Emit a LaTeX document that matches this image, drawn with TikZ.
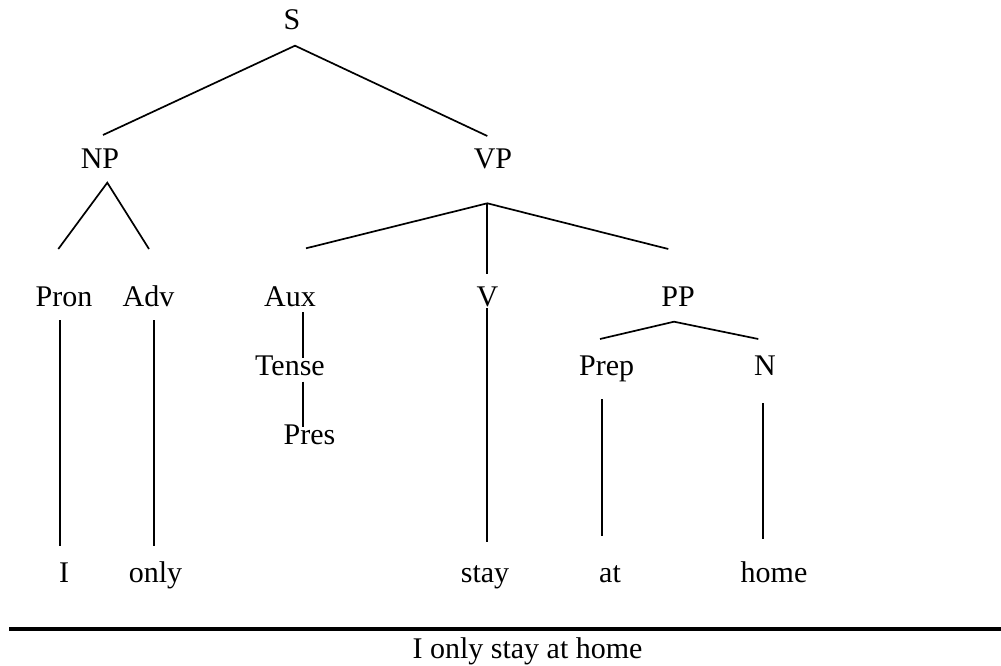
\documentclass[tikz,border=0pt]{standalone}
\usepackage{fontspec}
\setmainfont{Liberation Serif}
\begin{document}
\begin{tikzpicture}[x=1pt,y=-1pt,
  lbl/.style={anchor=base,inner sep=0pt,font=\fontsize{30}{36}\selectfont},
  branch/.style={line width=1.7pt,line cap=butt},
  rule/.style={line width=3.5pt}]
\useasboundingbox (0,0) rectangle (1001,666);

% category labels
\node[lbl] (S)     at (292,30)    {S};
\node[lbl] (NP)    at (100,168)   {NP};
\node[lbl] (VP)    at (493,168)   {VP};
\node[lbl] (Pron)  at (64,306)    {Pron};
\node[lbl] (Adv)   at (148.5,306) {Adv};
\node[lbl] (Aux)   at (290,306)   {Aux};
\node[lbl] (V)     at (487.5,306) {V};
\node[lbl] (PP)    at (678,306)   {PP};
\node[lbl] (Tense) at (290,375)   {Tense};
\node[lbl] (Pres)  at (309.5,444) {Pres};
\node[lbl] (Prep)  at (606.7,375) {Prep};
\node[lbl] (N)     at (765,375)   {N};

% words
\node[lbl] (wI)    at (64,582)    {I};
\node[lbl] (wonly) at (155.5,582) {only};
\node[lbl] (wstay) at (485,582)   {stay};
\node[lbl] (wat)   at (610,582)   {at};
\node[lbl] (whome) at (774,582)   {home};

% sentence under the rule
\node[lbl] (sent)  at (527.5,658) {I only stay at home};

% branch end points
\coordinate (S-top)   at (295,45.7);
\coordinate (NP-in)   at (103,135);
\coordinate (VP-in)   at (487.3,136);
\coordinate (NP-top)  at (107.3,182.7);
\coordinate (Pron-in) at (58.3,249);
\coordinate (Adv-in)  at (149,249);
\coordinate (VP-top)  at (487.3,203.3);
\coordinate (Aux-in)  at (306,248.3);
\coordinate (V-in)    at (487.3,274);
\coordinate (PP-in)   at (668.3,249);
\coordinate (PP-top)  at (674,321.7);
\coordinate (Prep-in) at (600,339);
\coordinate (N-in)    at (758.3,339);
\coordinate (Pron-b)  at (60,320);
\coordinate (I-in)    at (60,546);
\coordinate (Adv-b)   at (154,320);
\coordinate (only-in) at (154,546);
\coordinate (V-b)     at (487.3,308);
\coordinate (stay-in) at (487.3,542.3);
\coordinate (Aux-b)   at (302.7,312.3);
\coordinate (Tense-in) at (302.7,358);
\coordinate (Tense-b) at (302.7,381.7);
\coordinate (Pres-in) at (302.7,426.7);
\coordinate (Prep-b)  at (601.7,399);
\coordinate (at-in)   at (601.7,535.7);
\coordinate (N-b)     at (763.3,403.3);
\coordinate (home-in) at (763.3,539.3);
\coordinate (rule-l)  at (9,629);
\coordinate (rule-r)  at (1001,629);

% branches
\draw[branch] (NP-in) -- (S-top) -- (VP-in);
\draw[branch] (Pron-in) -- (NP-top) -- (Adv-in);
\draw[branch] (Aux-in) -- (VP-top) -- (PP-in);
\draw[branch] (VP-top) -- (V-in);
\draw[branch] (Prep-in) -- (PP-top) -- (N-in);
\draw[branch] (Pron-b) -- (I-in);
\draw[branch] (Adv-b) -- (only-in);
\draw[branch] (V-b) -- (stay-in);
\draw[branch] (Aux-b) -- (Tense-in);
\draw[branch] (Tense-b) -- (Pres-in);
\draw[branch] (Prep-b) -- (at-in);
\draw[branch] (N-b) -- (home-in);

% rule above the sentence
\draw[rule] (rule-l) -- (rule-r);
\end{tikzpicture}
\end{document}
